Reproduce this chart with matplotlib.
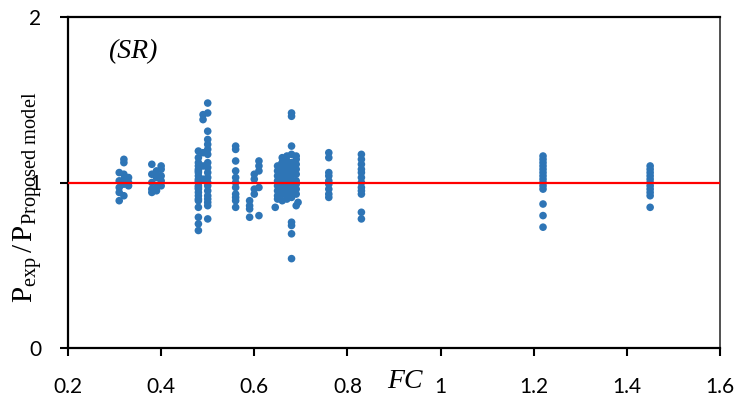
import matplotlib
matplotlib.use("Agg")
import matplotlib.pyplot as plt

plt.rcParams["mathtext.fontset"] = "custom"
plt.rcParams["mathtext.rm"] = "Liberation Serif"
plt.rcParams["mathtext.it"] = "Liberation Serif:italic"

# Test groups: FC value and measured / predicted strength ratio
fc_031 = [0.31, 0.31, 0.31, 0.31, 0.32, 0.32, 0.32, 0.32, 0.32, 0.33, 0.33, 0.33, 0.32, 0.31]
r_031 = [1.06, 1.01, 0.97, 0.94, 1.14, 1.12, 1.05, 1.02, 0.99, 1.03, 1.00, 0.98, 0.92, 0.89]

fc_039 = [0.38, 0.38, 0.38, 0.38, 0.38, 0.39, 0.39, 0.39, 0.40, 0.40, 0.40, 0.40, 0.40, 0.39]
r_039 = [1.11, 1.05, 1.00, 0.96, 0.94, 1.07, 1.03, 0.97, 1.10, 1.08, 1.04, 1.01, 0.98, 0.95]

fc_048 = [0.48, 0.48, 0.48, 0.48, 0.48, 0.48, 0.48, 0.48, 0.48, 0.48, 0.48, 0.48, 0.48,
          0.48, 0.48, 0.48, 0.48, 0.48, 0.48, 0.48, 0.48, 0.48,
          0.50, 0.49, 0.49, 0.50, 0.50, 0.50, 0.50, 0.50, 0.50, 0.50, 0.50, 0.50,
          0.50, 0.50, 0.50, 0.50, 0.50, 0.50, 0.50, 0.50, 0.50, 0.49, 0.49, 0.49]
r_048 = [1.19, 1.12, 1.10, 1.08, 1.06, 1.04, 1.02, 1.00, 0.98, 0.96, 0.94, 0.92, 0.90,
         0.89, 0.85, 0.79, 0.75, 0.71, 1.15, 1.07, 1.01, 0.97,
         1.48, 1.41, 1.38, 1.42, 1.31, 1.26, 1.23, 1.20, 1.17, 1.12, 1.09, 1.06,
         1.03, 1.00, 0.98, 0.95, 0.92, 0.90, 0.88, 0.86, 0.78, 1.18, 1.10, 1.02]

fc_056 = [0.56, 0.56, 0.56, 0.56, 0.56, 0.56, 0.56, 0.56, 0.56, 0.56, 0.56,
          0.61, 0.61, 0.60, 0.61, 0.60, 0.61, 0.59, 0.59, 0.59, 0.60, 0.59, 0.61, 0.60]
r_056 = [1.22, 1.20, 1.13, 1.07, 1.03, 1.00, 0.97, 0.93, 0.91, 0.89, 0.85,
         1.13, 1.10, 1.05, 1.07, 1.02, 0.97, 0.89, 0.86, 0.79, 0.93, 0.84, 0.80, 0.96]

fc_067 = [0.68, 0.68, 0.68, 0.69, 0.68, 0.68, 0.68, 0.68, 0.645, 0.69, 0.694,
          0.65, 0.65, 0.65, 0.65, 0.65, 0.65, 0.65, 0.65,
          0.66, 0.66, 0.66, 0.66, 0.66, 0.66, 0.66, 0.66, 0.66,
          0.67, 0.67, 0.67, 0.67, 0.67, 0.67, 0.67, 0.67, 0.67,
          0.68, 0.68, 0.68, 0.68, 0.68, 0.68, 0.68, 0.68,
          0.69, 0.69, 0.69, 0.69, 0.69, 0.69, 0.69, 0.69, 0.66, 0.67]
r_067 = [1.42, 1.40, 1.22, 1.14, 0.76, 0.74, 0.69, 0.54, 0.85, 0.86, 0.88,
         1.10, 1.07, 1.04, 1.01, 0.98, 0.95, 0.92, 0.90,
         1.15, 1.12, 1.08, 1.05, 1.02, 0.99, 0.96, 0.93, 0.89,
         1.13, 1.10, 1.07, 1.04, 1.00, 0.97, 0.95, 0.92, 0.90,
         1.17, 1.12, 1.09, 1.05, 1.02, 0.98, 0.94, 0.91,
         1.16, 1.11, 1.08, 1.05, 1.01, 0.99, 0.96, 0.93, 1.12, 1.16]

fc_076 = [0.76, 0.76, 0.76, 0.76, 0.76, 0.76, 0.76, 0.76, 0.76]
r_076 = [1.18, 1.15, 1.06, 1.04, 1.01, 0.99, 0.96, 0.93, 0.91]

fc_083 = [0.83, 0.83, 0.83, 0.83, 0.83, 0.83, 0.83, 0.83, 0.83, 0.83, 0.83, 0.83]
r_083 = [1.17, 1.14, 1.11, 1.08, 1.06, 1.03, 1.00, 0.97, 0.95, 0.93, 0.82, 0.78]

fc_122 = [1.22, 1.22, 1.22, 1.22, 1.22, 1.22, 1.22, 1.22, 1.22, 1.22, 1.22, 1.22, 1.22, 1.22]
r_122 = [1.16, 1.14, 1.12, 1.10, 1.08, 1.06, 1.04, 1.02, 1.00, 0.98, 0.96, 0.87, 0.80, 0.73]

fc_145 = [1.45, 1.45, 1.45, 1.45, 1.45, 1.45, 1.45, 1.45, 1.45, 1.45, 1.45]
r_145 = [1.10, 1.08, 1.06, 1.04, 1.02, 1.00, 0.98, 0.96, 0.94, 0.92, 0.85]

x_ticks = [0.2, 0.4, 0.6, 0.8, 1.0, 1.2, 1.4, 1.6]
x_tick_labels = ["0.2", "0.4", "0.6", "0.8", "1", "1.2", "1.4", "1.6"]
y_ticks = [0, 1, 2]
y_tick_labels = ["0", "1", "2"]

fc_all = fc_031 + fc_039 + fc_048 + fc_056 + fc_067 + fc_076 + fc_083 + fc_122 + fc_145
r_all = r_031 + r_039 + r_048 + r_056 + r_067 + r_076 + r_083 + r_122 + r_145

fig = plt.figure(figsize=(7.4, 4.03), dpi=100)
ax = fig.add_axes([68 / 740, 55 / 403, 652 / 740, 331 / 403])

ax.scatter(fc_all, r_all, s=30, color="#2E75B6", edgecolors="none", zorder=2)
ax.axhline(1.0, color="#FF0000", lw=1.6, zorder=3)

ax.set_xlim(0.2, 1.6)
ax.set_ylim(0, 2)
ax.set_xticks(x_ticks)
ax.set_xticklabels(x_tick_labels)
ax.set_yticks(y_ticks)
ax.set_yticklabels(y_tick_labels)

for lab in ax.get_xticklabels() + ax.get_yticklabels():
    lab.set_fontfamily("Lato")
    lab.set_fontsize(15)

ax.tick_params(axis="x", direction="out", length=6, width=1.5, pad=15)
ax.tick_params(axis="y", direction="out", length=6, width=1.5, pad=13)
for side in ["left", "bottom", "top"]:
    ax.spines[side].set_linewidth(1.6)
ax.spines["right"].set_linewidth(1.2)
ax.spines["right"].set_color("#333333")

ax.text(0.061, 0.895, "(SR)", transform=ax.transAxes, fontsize=20,
        family="Liberation Serif", style="italic", va="center", ha="left")
fig.text(405 / 740, 1 - 382 / 403, "FC", fontsize=20, family="Liberation Serif",
         style="italic", va="center", ha="center")
fig.text(27 / 740, 1 - 197 / 403,
         r"$\mathrm{P_{exp}\,/\,P_{Proposed\ model}}$",
         rotation=90, fontsize=21, va="center", ha="center")

fig.savefig("out.png", dpi=100)
